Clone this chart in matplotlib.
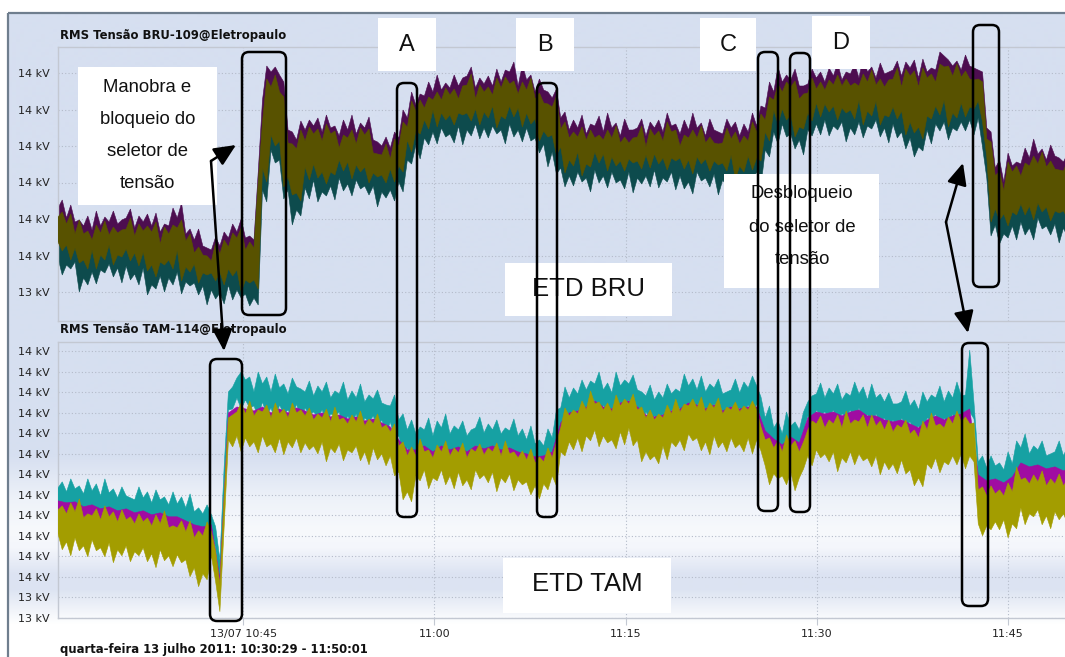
import numpy as np
import matplotlib
matplotlib.use("Agg")
import matplotlib.pyplot as plt
from matplotlib.colors import to_rgb
from matplotlib.patches import FancyBboxPatch, Rectangle, FancyArrowPatch
from matplotlib.ticker import FuncFormatter

W, H, DPI = 1065, 657, 100

# ---- time axis (minutes after 10:00) ----
t_start = 30 + 29 / 60          # 10:30:29
t_end = 110 + 1 / 60            # 11:50:01
time_ticks = [45, 60, 75, 90, 105]
time_labels = ["13/07 10:45", "11:00", "11:15", "11:30", "11:45"]

# ---- y ticks (V) ----
bru_ticks = [13480, 13516.5, 13553, 13589.5, 13626, 13662.5, 13699]
tam_ticks = [13469, 13489.5, 13510, 13530.5, 13551, 13571.5, 13592,
             13612.5, 13633, 13653.5, 13674, 13694.5, 13715, 13735.5]

# ================= BRU-109 (V) =================
# visible envelopes: 239 samples (~20 s)
bru_purple_max = [
    13564, 13572, 13554, 13567, 13550, 13552, 13546, 13556, 13542, 13561,
    13546, 13555, 13550, 13561, 13548, 13552, 13554, 13563, 13544, 13556,
    13550, 13558, 13546, 13559, 13540, 13548, 13546, 13564, 13554, 13569,
    13538, 13543, 13532, 13543, 13526, 13524, 13522, 13535, 13526, 13540,
    13534, 13548, 13540, 13553, 13534, 13536, 13532, 13600, 13672, 13706,
    13700, 13705, 13697, 13690, 13642, 13640, 13632, 13651, 13642, 13652,
    13646, 13654, 13640, 13657, 13644, 13646, 13636, 13652, 13642, 13657,
    13638, 13649, 13644, 13655, 13632, 13630, 13626, 13635, 13624, 13640,
    13634, 13662, 13654, 13680, 13667, 13678, 13676, 13690, 13680, 13697,
    13682, 13689, 13684, 13697, 13686, 13694, 13696, 13705, 13684, 13694,
    13688, 13696, 13686, 13703, 13690, 13702, 13700, 13710, 13686, 13707,
    13692, 13697, 13680, 13693, 13682, 13680, 13674, 13683, 13654, 13660,
    13642, 13652, 13644, 13657, 13638, 13648, 13646, 13656, 13640, 13659,
    13644, 13649, 13636, 13653, 13642, 13642, 13644, 13653, 13636, 13650,
    13644, 13652, 13640, 13659, 13646, 13648, 13638, 13652, 13642, 13659,
    13644, 13649, 13636, 13653, 13642, 13640, 13638, 13653, 13644, 13650,
    13636, 13648, 13640, 13659, 13646, 13666, 13664, 13690, 13680, 13705,
    13690, 13697, 13692, 13703, 13686, 13686, 13688, 13703, 13694, 13700,
    13690, 13704, 13696, 13709, 13692, 13700, 13698, 13708, 13694, 13715,
    13700, 13705, 13694, 13709, 13698, 13700, 13702, 13711, 13696, 13710,
    13704, 13712, 13694, 13713, 13700, 13704, 13702, 13720, 13716, 13712,
    13706, 13711, 13702, 13717, 13706, 13704, 13702, 13700, 13644, 13640,
    13604, 13612, 13590, 13619, 13606, 13610, 13608, 13624, 13614, 13633,
    13618, 13623, 13612, 13627, 13616, 13614, 13610, 13619, 13606]
bru_olive_max = [
    13555, 13560, 13548, 13558, 13538, 13552, 13538, 13541, 13532, 13547,
    13539, 13551, 13537, 13545, 13539, 13542, 13543, 13554, 13536, 13548,
    13541, 13546, 13540, 13550, 13528, 13545, 13538, 13547, 13544, 13552,
    13531, 13538, 13519, 13525, 13517, 13516, 13511, 13529, 13518, 13532,
    13525, 13539, 13534, 13544, 13522, 13530, 13524, 13590, 13650, 13693,
    13685, 13697, 13680, 13675, 13629, 13628, 13623, 13642, 13631, 13645,
    13638, 13643, 13631, 13648, 13638, 13641, 13624, 13637, 13634, 13642,
    13628, 13644, 13637, 13643, 13619, 13618, 13617, 13628, 13613, 13633,
    13626, 13650, 13645, 13671, 13661, 13672, 13664, 13675, 13672, 13680,
    13672, 13684, 13677, 13683, 13673, 13686, 13687, 13698, 13673, 13687,
    13680, 13685, 13677, 13694, 13684, 13695, 13688, 13691, 13678, 13690,
    13682, 13694, 13673, 13679, 13669, 13668, 13665, 13676, 13643, 13650,
    13634, 13640, 13635, 13645, 13632, 13642, 13634, 13637, 13632, 13642,
    13634, 13646, 13629, 13635, 13629, 13634, 13635, 13646, 13625, 13643,
    13636, 13641, 13631, 13650, 13640, 13642, 13626, 13637, 13634, 13642,
    13634, 13646, 13629, 13635, 13629, 13628, 13629, 13644, 13633, 13640,
    13628, 13636, 13631, 13650, 13640, 13658, 13652, 13675, 13672, 13688,
    13680, 13690, 13685, 13691, 13673, 13678, 13679, 13694, 13683, 13690,
    13682, 13692, 13687, 13697, 13686, 13693, 13686, 13689, 13686, 13698,
    13690, 13702, 13687, 13693, 13685, 13692, 13693, 13704, 13685, 13703,
    13696, 13701, 13685, 13704, 13694, 13698, 13690, 13708, 13705, 13706,
    13696, 13708, 13695, 13701, 13693, 13692, 13693, 13690, 13633, 13630,
    13596, 13601, 13581, 13610, 13600, 13606, 13596, 13609, 13606, 13616,
    13608, 13620, 13605, 13611, 13603, 13602, 13601, 13612, 13595]
bru_olive_min = [
    13530, 13521, 13527, 13512, 13524, 13509, 13512, 13503, 13522, 13503,
    13517, 13512, 13527, 13507, 13517, 13515, 13523, 13511, 13519, 13506,
    13520, 13501, 13507, 13495, 13510, 13507, 13512, 13503, 13522, 13491,
    13505, 13500, 13508, 13489, 13499, 13497, 13499, 13491, 13500, 13487,
    13503, 13496, 13502, 13480, 13492, 13489, 13492, 13483, 13604, 13590,
    13637, 13626, 13631, 13585, 13595, 13577, 13579, 13571, 13605, 13592,
    13608, 13594, 13600, 13588, 13600, 13597, 13612, 13601, 13610, 13593,
    13607, 13600, 13605, 13589, 13599, 13595, 13597, 13589, 13603, 13590,
    13606, 13600, 13632, 13620, 13641, 13638, 13652, 13643, 13662, 13645,
    13659, 13652, 13657, 13647, 13659, 13657, 13659, 13651, 13663, 13647,
    13660, 13654, 13666, 13644, 13656, 13653, 13666, 13655, 13664, 13645,
    13659, 13648, 13653, 13631, 13641, 13635, 13637, 13617, 13625, 13599,
    13612, 13606, 13620, 13596, 13608, 13605, 13620, 13609, 13618, 13601,
    13615, 13606, 13611, 13601, 13613, 13609, 13611, 13603, 13617, 13604,
    13618, 13608, 13614, 13602, 13614, 13611, 13614, 13603, 13612, 13598,
    13615, 13608, 13613, 13601, 13611, 13607, 13609, 13601, 13617, 13593,
    13606, 13600, 13616, 13602, 13614, 13611, 13640, 13631, 13662, 13648,
    13663, 13652, 13657, 13635, 13645, 13643, 13659, 13651, 13669, 13655,
    13668, 13660, 13666, 13652, 13664, 13659, 13662, 13653, 13672, 13647,
    13661, 13656, 13671, 13647, 13657, 13655, 13665, 13653, 13661, 13637,
    13650, 13639, 13645, 13633, 13656, 13653, 13666, 13657, 13672, 13645,
    13659, 13654, 13669, 13655, 13665, 13663, 13671, 13650, 13615, 13550,
    13563, 13552, 13558, 13546, 13560, 13557, 13568, 13557, 13566, 13552,
    13569, 13560, 13565, 13551, 13561, 13559, 13561, 13553, 13561]
bru_teal_min = [
    13514, 13497, 13507, 13503, 13510, 13480, 13494, 13487, 13500, 13488,
    13502, 13499, 13508, 13495, 13504, 13489, 13506, 13492, 13498, 13487,
    13504, 13477, 13487, 13483, 13496, 13480, 13494, 13487, 13500, 13478,
    13490, 13486, 13489, 13477, 13486, 13467, 13482, 13473, 13479, 13468,
    13487, 13472, 13482, 13474, 13478, 13466, 13474, 13467, 13582, 13570,
    13622, 13609, 13612, 13573, 13582, 13547, 13562, 13556, 13584, 13573,
    13592, 13570, 13580, 13576, 13586, 13572, 13594, 13581, 13588, 13576,
    13592, 13583, 13586, 13577, 13586, 13565, 13580, 13574, 13582, 13571,
    13590, 13580, 13612, 13608, 13627, 13613, 13634, 13627, 13640, 13628,
    13644, 13635, 13638, 13629, 13646, 13627, 13642, 13636, 13648, 13633,
    13644, 13634, 13646, 13638, 13642, 13628, 13648, 13635, 13642, 13630,
    13644, 13631, 13634, 13619, 13628, 13605, 13620, 13598, 13604, 13585,
    13596, 13586, 13600, 13590, 13594, 13580, 13602, 13589, 13596, 13584,
    13600, 13589, 13592, 13583, 13600, 13579, 13594, 13588, 13596, 13585,
    13602, 13584, 13594, 13590, 13600, 13582, 13596, 13583, 13590, 13578,
    13600, 13591, 13594, 13585, 13598, 13577, 13592, 13586, 13596, 13579,
    13590, 13580, 13596, 13592, 13600, 13586, 13622, 13615, 13640, 13628,
    13648, 13635, 13638, 13623, 13632, 13617, 13642, 13636, 13648, 13637,
    13652, 13636, 13646, 13642, 13650, 13630, 13644, 13637, 13650, 13634,
    13646, 13643, 13652, 13635, 13644, 13629, 13648, 13634, 13640, 13623,
    13634, 13615, 13625, 13621, 13642, 13628, 13648, 13641, 13650, 13632,
    13644, 13641, 13650, 13641, 13652, 13637, 13654, 13625, 13594, 13536,
    13547, 13528, 13538, 13534, 13546, 13532, 13550, 13537, 13544, 13532,
    13554, 13543, 13546, 13537, 13548, 13529, 13544, 13534, 13540]
# envelopes hidden behind the middle phase: 120 samples (~40 s)
bru_purple_min = [
    13533, 13530, 13527, 13515, 13525, 13520, 13530, 13520, 13526, 13522,
    13523, 13510, 13513, 13515, 13525, 13508, 13511, 13502, 13502, 13503,
    13506, 13505, 13495, 13495, 13607, 13640, 13634, 13598, 13582, 13608,
    13611, 13603, 13603, 13615, 13613, 13610, 13608, 13602, 13600, 13606,
    13609, 13635, 13644, 13655, 13665, 13662, 13660, 13662, 13662, 13666,
    13663, 13669, 13659, 13669, 13667, 13662, 13656, 13644, 13640, 13628,
    13615, 13623, 13611, 13623, 13621, 13618, 13614, 13616, 13614, 13620,
    13621, 13617, 13617, 13617, 13615, 13618, 13616, 13614, 13612, 13620,
    13609, 13619, 13617, 13643, 13665, 13666, 13660, 13648, 13662, 13672,
    13671, 13669, 13667, 13665, 13675, 13664, 13674, 13660, 13668, 13664,
    13653, 13648, 13659, 13669, 13675, 13662, 13672, 13668, 13674, 13618,
    13566, 13561, 13563, 13571, 13569, 13572, 13568, 13564, 13564, 13564]
bru_teal_max = [
    13552, 13545, 13535, 13535, 13529, 13536, 13534, 13536, 13540, 13533,
    13538, 13537, 13525, 13535, 13541, 13528, 13516, 13514, 13508, 13515,
    13522, 13531, 13519, 13521, 13647, 13682, 13677, 13626, 13620, 13628,
    13635, 13628, 13635, 13621, 13631, 13625, 13634, 13616, 13614, 13610,
    13623, 13642, 13658, 13661, 13669, 13669, 13674, 13670, 13684, 13670,
    13677, 13674, 13681, 13685, 13675, 13679, 13670, 13666, 13662, 13640,
    13631, 13632, 13629, 13631, 13629, 13631, 13626, 13626, 13632, 13622,
    13633, 13628, 13637, 13623, 13631, 13631, 13626, 13626, 13626, 13630,
    13625, 13628, 13637, 13649, 13669, 13677, 13682, 13670, 13676, 13680,
    13679, 13684, 13683, 13683, 13683, 13687, 13684, 13682, 13690, 13682,
    13693, 13682, 13691, 13687, 13702, 13693, 13692, 13690, 13690, 13630,
    13593, 13578, 13597, 13593, 13603, 13605, 13602, 13600, 13598, 13592]

# ================= TAM-114 (V) =================
tam_teal_max = [
    13599, 13605, 13595, 13608, 13598, 13601, 13593, 13608, 13596, 13603,
    13591, 13608, 13594, 13598, 13589, 13600, 13591, 13589, 13587, 13600,
    13589, 13595, 13584, 13597, 13587, 13590, 13582, 13595, 13583, 13590,
    13579, 13593, 13575, 13579, 13573, 13582, 13572, 13560, 13527, 13620,
    13695, 13700, 13709, 13715, 13707, 13710, 13695, 13715, 13703, 13710,
    13695, 13713, 13699, 13703, 13693, 13709, 13700, 13698, 13695, 13706,
    13691, 13701, 13695, 13705, 13689, 13696, 13693, 13705, 13687, 13696,
    13689, 13703, 13685, 13692, 13688, 13697, 13684, 13682, 13681, 13692,
    13667, 13673, 13657, 13667, 13653, 13660, 13657, 13669, 13651, 13666,
    13659, 13673, 13653, 13661, 13657, 13666, 13651, 13657, 13659, 13670,
    13654, 13663, 13657, 13667, 13653, 13659, 13656, 13668, 13651, 13658,
    13647, 13661, 13643, 13647, 13641, 13658, 13649, 13677, 13679, 13700,
    13689, 13699, 13693, 13707, 13697, 13706, 13703, 13715, 13697, 13704,
    13694, 13715, 13701, 13707, 13703, 13712, 13697, 13695, 13691, 13702,
    13687, 13695, 13689, 13703, 13693, 13698, 13695, 13713, 13701, 13708,
    13697, 13711, 13695, 13703, 13699, 13708, 13693, 13695, 13697, 13708,
    13694, 13705, 13699, 13711, 13701, 13690, 13669, 13681, 13659, 13666,
    13653, 13675, 13661, 13665, 13657, 13675, 13685, 13691, 13693, 13704,
    13689, 13699, 13693, 13703, 13687, 13694, 13691, 13705, 13693, 13700,
    13687, 13703, 13689, 13693, 13685, 13694, 13683, 13683, 13685, 13696,
    13681, 13687, 13677, 13695, 13685, 13692, 13689, 13701, 13685, 13696,
    13689, 13705, 13691, 13692, 13737, 13684, 13625, 13631, 13619, 13631,
    13621, 13624, 13617, 13635, 13623, 13646, 13639, 13653, 13633, 13641,
    13637, 13646, 13631, 13633, 13635, 13646, 13631, 13641, 13635]
tam_teal_min = [
    13583, 13576, 13581, 13572, 13582, 13575, 13577, 13566, 13579, 13568,
    13575, 13562, 13577, 13569, 13573, 13565, 13575, 13559, 13571, 13568,
    13573, 13564, 13569, 13560, 13571, 13565, 13567, 13556, 13567, 13556,
    13563, 13546, 13559, 13553, 13557, 13549, 13559, 13538, 13505, 13595,
    13677, 13678, 13689, 13678, 13687, 13679, 13681, 13670, 13685, 13672,
    13679, 13666, 13682, 13673, 13677, 13669, 13683, 13667, 13679, 13672,
    13675, 13670, 13677, 13664, 13673, 13671, 13675, 13660, 13671, 13664,
    13673, 13656, 13669, 13665, 13671, 13659, 13667, 13653, 13665, 13648,
    13651, 13634, 13639, 13628, 13637, 13635, 13640, 13624, 13635, 13628,
    13641, 13624, 13637, 13633, 13640, 13627, 13635, 13623, 13642, 13635,
    13638, 13633, 13641, 13628, 13637, 13635, 13639, 13624, 13635, 13625,
    13632, 13616, 13629, 13623, 13627, 13619, 13635, 13623, 13663, 13660,
    13675, 13670, 13677, 13668, 13681, 13679, 13687, 13671, 13682, 13672,
    13679, 13666, 13685, 13681, 13687, 13673, 13681, 13663, 13675, 13668,
    13671, 13666, 13673, 13664, 13677, 13675, 13679, 13668, 13685, 13676,
    13683, 13666, 13679, 13675, 13683, 13669, 13677, 13665, 13681, 13676,
    13679, 13674, 13682, 13673, 13683, 13668, 13653, 13634, 13645, 13632,
    13639, 13626, 13647, 13637, 13641, 13655, 13671, 13659, 13677, 13672,
    13675, 13670, 13677, 13664, 13673, 13671, 13677, 13666, 13679, 13666,
    13673, 13660, 13673, 13665, 13669, 13659, 13667, 13655, 13669, 13662,
    13665, 13656, 13661, 13652, 13669, 13667, 13673, 13658, 13669, 13662,
    13673, 13660, 13675, 13671, 13675, 13668, 13609, 13591, 13603, 13600,
    13605, 13596, 13601, 13592, 13607, 13605, 13621, 13606, 13617, 13610,
    13619, 13602, 13615, 13611, 13617, 13605, 13613, 13601, 13617]
tam_olive_max = [
    13577, 13581, 13573, 13584, 13575, 13588, 13569, 13573, 13571, 13578,
    13567, 13581, 13570, 13575, 13565, 13577, 13567, 13570, 13563, 13573,
    13565, 13569, 13561, 13572, 13563, 13576, 13559, 13561, 13559, 13566,
    13555, 13566, 13549, 13556, 13551, 13565, 13555, 13535, 13502, 13590,
    13669, 13672, 13675, 13684, 13673, 13686, 13671, 13677, 13675, 13682,
    13669, 13684, 13673, 13678, 13669, 13684, 13674, 13677, 13671, 13679,
    13667, 13673, 13669, 13678, 13665, 13680, 13667, 13669, 13663, 13672,
    13665, 13676, 13661, 13668, 13663, 13673, 13659, 13662, 13655, 13663,
    13641, 13645, 13631, 13640, 13631, 13648, 13635, 13637, 13629, 13642,
    13635, 13646, 13631, 13639, 13634, 13644, 13629, 13638, 13635, 13643,
    13632, 13639, 13635, 13644, 13631, 13646, 13633, 13635, 13629, 13636,
    13627, 13638, 13624, 13630, 13625, 13639, 13629, 13645, 13659, 13679,
    13671, 13677, 13673, 13686, 13677, 13696, 13683, 13685, 13677, 13684,
    13675, 13692, 13681, 13688, 13683, 13693, 13677, 13680, 13669, 13677,
    13667, 13673, 13669, 13682, 13673, 13688, 13675, 13683, 13681, 13688,
    13679, 13690, 13675, 13684, 13679, 13689, 13673, 13680, 13677, 13685,
    13675, 13681, 13677, 13686, 13677, 13660, 13647, 13649, 13639, 13646,
    13635, 13652, 13641, 13646, 13635, 13645, 13657, 13666, 13663, 13671,
    13659, 13667, 13663, 13672, 13659, 13676, 13663, 13667, 13665, 13672,
    13659, 13672, 13661, 13666, 13657, 13667, 13655, 13662, 13659, 13667,
    13653, 13657, 13649, 13666, 13657, 13674, 13661, 13663, 13659, 13670,
    13663, 13676, 13665, 13670, 13663, 13664, 13597, 13600, 13591, 13601,
    13593, 13597, 13591, 13604, 13595, 13620, 13607, 13609, 13603, 13612,
    13605, 13616, 13601, 13608, 13603, 13613, 13601, 13608, 13605]
tam_olive_min = [
    13553, 13537, 13545, 13531, 13549, 13536, 13541, 13530, 13547, 13536,
    13539, 13530, 13544, 13524, 13537, 13531, 13541, 13525, 13535, 13531,
    13539, 13525, 13533, 13519, 13537, 13526, 13531, 13520, 13532, 13524,
    13527, 13510, 13519, 13500, 13513, 13507, 13531, 13505, 13475, 13560,
    13647, 13640, 13651, 13635, 13649, 13640, 13645, 13634, 13651, 13640,
    13643, 13634, 13649, 13632, 13645, 13639, 13649, 13634, 13644, 13637,
    13641, 13633, 13645, 13625, 13639, 13634, 13643, 13626, 13637, 13634,
    13641, 13626, 13635, 13622, 13639, 13627, 13633, 13621, 13631, 13611,
    13615, 13587, 13595, 13585, 13611, 13606, 13617, 13598, 13609, 13606,
    13617, 13602, 13611, 13598, 13615, 13601, 13607, 13597, 13617, 13608,
    13612, 13604, 13615, 13595, 13609, 13604, 13613, 13596, 13607, 13602,
    13605, 13592, 13601, 13588, 13603, 13597, 13611, 13601, 13635, 13631,
    13645, 13637, 13649, 13635, 13651, 13646, 13657, 13640, 13651, 13644,
    13647, 13638, 13655, 13642, 13659, 13641, 13647, 13625, 13635, 13627,
    13631, 13623, 13641, 13627, 13645, 13640, 13647, 13636, 13653, 13646,
    13649, 13636, 13645, 13632, 13651, 13639, 13645, 13635, 13649, 13639,
    13643, 13635, 13649, 13633, 13647, 13636, 13621, 13602, 13613, 13608,
    13611, 13602, 13615, 13596, 13609, 13618, 13631, 13621, 13637, 13629,
    13633, 13625, 13635, 13615, 13629, 13624, 13635, 13622, 13633, 13626,
    13629, 13620, 13631, 13612, 13625, 13617, 13623, 13613, 13627, 13613,
    13617, 13601, 13609, 13600, 13623, 13618, 13629, 13614, 13625, 13622,
    13631, 13622, 13633, 13618, 13631, 13625, 13563, 13551, 13561, 13557,
    13565, 13557, 13567, 13549, 13563, 13558, 13579, 13562, 13573, 13570,
    13577, 13562, 13571, 13558, 13575, 13567, 13573, 13563, 13575]
tam_magenta_max = [
    13586, 13584, 13585, 13580, 13582, 13578, 13580, 13576, 13578, 13574,
    13576, 13572, 13574, 13570, 13570, 13566, 13562, 13560, 13562, 13508,
    13674, 13680, 13678, 13676, 13680, 13674, 13678, 13674, 13679, 13676,
    13672, 13674, 13670, 13672, 13668, 13670, 13666, 13668, 13664, 13660,
    13647, 13637, 13637, 13641, 13635, 13641, 13637, 13640, 13635, 13641,
    13638, 13641, 13637, 13639, 13635, 13633, 13630, 13631, 13635, 13664,
    13674, 13676, 13680, 13686, 13680, 13678, 13684, 13686, 13680, 13672,
    13670, 13672, 13676, 13678, 13684, 13682, 13678, 13682, 13676, 13680,
    13678, 13680, 13680, 13656, 13648, 13642, 13650, 13644, 13669, 13675,
    13673, 13675, 13671, 13675, 13677, 13671, 13671, 13667, 13665, 13667,
    13663, 13659, 13667, 13671, 13667, 13671, 13673, 13678, 13612, 13606,
    13608, 13604, 13610, 13624, 13620, 13622, 13618, 13620, 13616, 13620]
tam_magenta_min = [
    13574, 13570, 13572, 13566, 13568, 13564, 13567, 13562, 13564, 13560,
    13562, 13558, 13560, 13556, 13556, 13552, 13546, 13548, 13552, 13499,
    13666, 13672, 13670, 13668, 13672, 13666, 13670, 13666, 13671, 13668,
    13664, 13666, 13662, 13664, 13660, 13662, 13658, 13660, 13656, 13652,
    13638, 13628, 13628, 13632, 13626, 13632, 13628, 13631, 13626, 13632,
    13629, 13632, 13628, 13630, 13626, 13624, 13621, 13622, 13626, 13656,
    13668, 13670, 13674, 13680, 13674, 13672, 13678, 13680, 13674, 13666,
    13664, 13666, 13670, 13672, 13678, 13676, 13672, 13676, 13670, 13674,
    13672, 13674, 13674, 13644, 13636, 13632, 13638, 13632, 13654, 13660,
    13656, 13660, 13656, 13660, 13662, 13656, 13658, 13654, 13652, 13656,
    13650, 13646, 13654, 13658, 13656, 13660, 13662, 13660, 13594, 13588,
    13590, 13588, 13592, 13604, 13600, 13602, 13598, 13600, 13598, 13602]

# ---- figure ----
fig = plt.figure(figsize=(W / DPI, H / DPI), dpi=DPI)
fig.patch.set_facecolor("white")


def px_rect(x0, y0, x1, y1):
    """pixel box (top-left origin) -> figure-fraction rect"""
    return [x0 / W, 1 - y1 / H, (x1 - x0) / W, (y1 - y0) / H]


# panel background with the glossy vertical gradient
bg = fig.add_axes([0, 0, 1, 1], zorder=0)
stop_y = [13, 455, 500, 530, 548, 575, 590, 612, 624, 657]
stop_c = ["#d6dff0", "#d6dff0", "#eef2f9", "#f7f9fc", "#f4f6fb",
          "#dce3f2", "#dde4f2", "#f3f5fa", "#ffffff", "#ffffff"]
rows = np.arange(13, H + 1)
rgb = np.array([to_rgb(c) for c in stop_c])
grad = np.stack([np.interp(rows, stop_y, rgb[:, k]) for k in range(3)], axis=-1)[:, None, :]
bg.imshow(grad, extent=(8, W, H, 13), aspect="auto", interpolation="bilinear")
bg.plot([8, 8], [13, H], color="#6f7e8e", lw=1.6, solid_capstyle="butt")
bg.plot([8, W], [13, 13], color="#6f7e8e", lw=1.6, solid_capstyle="butt")
bg.set_xlim(0, W)
bg.set_ylim(H, 0)
bg.axis("off")

ax1 = fig.add_axes(px_rect(58, 46.7, 1072, 320.7), zorder=1)
ax2 = fig.add_axes(px_rect(58, 341.7, 1072, 617.7), zorder=1)

kv_fmt = FuncFormatter(lambda v, p: f"{v / 1000:.0f} kV")
for ax, ticks, lim in ((ax1, bru_ticks, (13451.3, 13725.3)),
                       (ax2, tam_ticks, (13469.3, 13745.3))):
    ax.set_facecolor("none")
    ax.set_xlim(t_start, t_end)
    ax.set_ylim(*lim)
    ax.set_yticks(ticks)
    ax.yaxis.set_major_formatter(kv_fmt)
    ax.set_xticks(time_ticks)
    ax.set_axisbelow(True)
    ax.grid(True, color="#b4bbc9", lw=0.8, ls=(0, (1, 2)))
    ax.tick_params(axis="y", length=0, pad=6, labelsize=8, labelcolor="#222222")
    for s in ("top", "left", "bottom"):
        ax.spines[s].set_color("#c3c8d2")
        ax.spines[s].set_linewidth(1.0)
    ax.spines["right"].set_visible(False)

ax1.tick_params(axis="x", length=0, labelbottom=False)
ax2.set_xticklabels(time_labels)
ax2.tick_params(axis="x", length=5, color="#c3c8d2", labelsize=8,
                labelcolor="#222222", pad=3)


def band(ax, hi, lo, color, z):
    """fill the region between a max and a min envelope (own time grids)"""
    t_hi = np.linspace(t_start, t_end, len(hi))
    t_lo = np.linspace(t_start, t_end, len(lo))
    xs = np.concatenate([t_hi, t_lo[::-1]])
    ys = np.concatenate([hi, lo[::-1]])
    ax.fill(xs, ys, color=color, lw=0.4, ec=color, zorder=z)


band(ax1, bru_purple_max, bru_purple_min, "#4d0d50", 2)
band(ax1, bru_teal_max, bru_teal_min, "#0d4b4d", 2)
band(ax1, bru_olive_max, bru_olive_min, "#585200", 3)

band(ax2, tam_teal_max, tam_teal_min, "#16a1a3", 3)
band(ax2, tam_magenta_max, tam_magenta_min, "#a00ca2", 3.5)
band(ax2, tam_olive_max, tam_olive_min, "#a39d00", 4)

# chart titles and date range
fig.text(60 / W, 1 - 36 / H, "RMS Tensão BRU-109@Eletropaulo", fontsize=8.4,
         fontweight="bold", color="#111111", va="center", ha="left")
fig.text(60 / W, 1 - 330 / H, "RMS Tensão TAM-114@Eletropaulo", fontsize=8.4,
         fontweight="bold", color="#111111", va="center", ha="left")
fig.text(60 / W, 1 - 653.5 / H, "quarta-feira 13 julho 2011: 10:30:29 - 11:50:01",
         fontsize=8.4, fontweight="bold", color="#111111", va="baseline", ha="left")

# ---- annotation layer (pixel coordinates) ----
ov = fig.add_axes([0, 0, 1, 1], zorder=5)
ov.set_xlim(0, W)
ov.set_ylim(H, 0)
ov.axis("off")
ov.patch.set_alpha(0)

SANS = "Liberation Sans"


def label_box(x0, y0, x1, y1, lines, ys, size, cx=None):
    ov.add_patch(Rectangle((x0, y0), x1 - x0, y1 - y0, fc="white", ec="none", zorder=1))
    cx = (x0 + x1) / 2 if cx is None else cx
    for txt, y in zip(lines, ys):
        ov.text(cx, y, txt, fontsize=size, family=SANS, color="#111111",
                ha="center", va="center", zorder=2)


label_box(78, 67, 217, 205, ["Manobra e", "bloqueio do", "seletor de", "tensão"],
          [88, 120, 152, 184], 13.3)
label_box(724, 174, 879, 288, ["Desbloqueio", "do seletor de", "tensão"],
          [194, 227, 260], 13.3, cx=802)
label_box(378, 18, 436, 71, ["A"], [45], 17)
label_box(516, 18, 574, 71, ["B"], [45], 17)
label_box(700, 18, 756, 71, ["C"], [45], 17)
label_box(812, 16, 870, 69, ["D"], [43], 17)
label_box(505, 263, 672, 316, ["ETD BRU"], [289], 18.5)
label_box(503, 558, 671, 613, ["ETD TAM"], [584], 18.5)

# rounded highlight frames
frames = [(242, 52, 286, 315), (210, 359, 242, 621), (397, 83, 417, 517),
          (537, 83, 557, 517), (758, 52, 778, 511), (790, 53, 810, 512),
          (973, 25, 999, 287), (962, 343, 988, 606)]
for x0, y0, x1, y1 in frames:
    ov.add_patch(FancyBboxPatch((x0, y0), x1 - x0, y1 - y0,
                                boxstyle="round,pad=0,rounding_size=7",
                                fc="none", ec="black", lw=1.8, zorder=3))

# bent double arrows
for bend, tips in (((211, 161), [(236, 145), (224, 351)]),
                   ((946, 222), [(963, 163), (968, 333)])):
    for tip in tips:
        ov.add_patch(FancyArrowPatch(bend, tip,
                                     arrowstyle="-|>,head_length=1.1,head_width=0.5",
                                     mutation_scale=12, lw=1.8, color="black",
                                     shrinkA=0, shrinkB=0, zorder=4))

fig.savefig("out.png", dpi=DPI, facecolor=fig.get_facecolor())
